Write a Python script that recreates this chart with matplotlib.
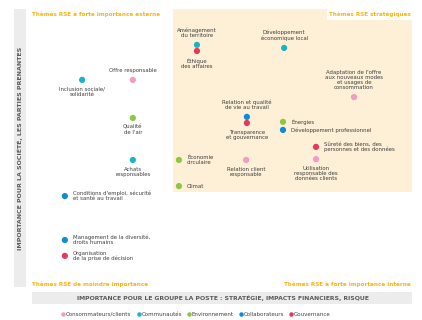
import matplotlib.pyplot as plt
from matplotlib.patches import Rectangle
from matplotlib.lines import Line2D

# stakeholder groups and colours
groups = ["Consommateurs/clients", "Communautés", "Environnement", "Collaborateurs", "Gouvernance"]
group_colors = ["#f39bc6", "#1ab3c8", "#8dc63f", "#0b8bd9", "#e6375c"]

# themes: label, group index, importance La Poste (x), importance société (y)
labels = [
    "Inclusion sociale/\nsolidarité", "Offre responsable", "Qualité\nde l'air", "Achats\nresponsables",
    "Aménagement\ndu territoire", "Éthique\ndes affaires", "Développement\néconomique local",
    "Adaptation de l'offre\naux nouveaux modes\net usages de\nconsommation",
    "Relation et qualité\nde vie au travail", "Transparence\net gouvernance", "Énergies",
    "Développement professionnel", "Sûreté des biens, des\npersonnes et des données",
    "Relation client\nresponsable", "Utilisation\nresponsable des\ndonnées clients",
    "Économie\ncirculaire", "Climat", "Conditions d'emploi, sécurité\net santé au travail",
    "Management de la diversité,\ndroits humains", "Organisation\nde la prise de décision",
]
theme_group = [1, 0, 2, 1, 1, 4, 1, 0, 3, 4, 2, 3, 4, 0, 0, 2, 2, 3, 3, 4]
x_internal = [1.41, 2.73, 2.73, 2.73, 4.40, 4.40, 6.67, 8.49, 5.70, 5.70,
              6.64, 6.64, 7.50, 5.68, 7.50, 3.93, 3.93, 0.96, 0.96, 0.96]
y_external = [7.45, 7.45, 6.08, 4.57, 8.71, 8.49, 8.60, 6.83, 6.12, 5.90,
              5.94, 5.65, 5.04, 4.57, 4.60, 4.57, 3.63, 3.27, 1.69, 1.12]
label_pos = ["below", "above", "below", "below", "above", "below", "above", "above",
             "above", "below", "right", "right", "right", "below", "below",
             "right", "right", "right", "right", "right"]

orange = "#f6b40e"
grey_bar = "#ececec"
axis_txt = "#5a5a5a"
lab_txt = "#3f3f3f"

fig = plt.figure(figsize=(4.22, 3.20), dpi=100)
W, H = 422, 320

ax = fig.add_axes([28 / W, 1 - 287 / H, 384 / W, 278 / H])
ax.set_xlim(0, 10)
ax.set_ylim(0, 10)
ax.axis("off")

# strategic zone
ax.add_patch(Rectangle((3.78, 3.42), 6.22, 6.58, facecolor="#fdf0d6", edgecolor="none", zorder=0))

# axis bars
fig.patches.append(Rectangle((14 / W, 1 - 287 / H), 12 / W, 278 / H, transform=fig.transFigure,
                             facecolor=grey_bar, edgecolor="none"))
fig.patches.append(Rectangle((32 / W, 1 - 304 / H), 380 / W, 12 / H, transform=fig.transFigure,
                             facecolor=grey_bar, edgecolor="none"))
fig.text(20 / W, 1 - 148 / H, "IMPORTANCE POUR LA SOCIÉTÉ, LES PARTIES PRENANTES", rotation=90,
         ha="center", va="center", fontsize=4.5, fontweight="bold", color=axis_txt)
fig.text(223 / W, 1 - 298 / H, "IMPORTANCE POUR LE GROUPE LA POSTE : STRATÉGIE, IMPACTS FINANCIERS, RISQUE",
         ha="center", va="center", fontsize=4.45, fontweight="bold", color=axis_txt)

# quadrant titles
ax.text(0.1, 9.8, "Thèmes RSE à forte importance externe", ha="left", va="center",
        fontsize=4.1, fontweight="bold", color=orange)
ax.text(9.98, 9.8, "Thèmes RSE stratégiques", ha="right", va="center", fontsize=4.1,
        fontweight="bold", color=orange,
        bbox=dict(facecolor="white", edgecolor="none", pad=1.8))
fig.text(32 / W, 1 - 284 / H, "Thèmes RSE de moindre importance", ha="left", va="center",
         fontsize=4.1, fontweight="bold", color=orange)
fig.text(411 / W, 1 - 284 / H, "Thèmes RSE à forte importance interne", ha="right", va="center",
         fontsize=4.1, fontweight="bold", color=orange)

# points
cols = [group_colors[g] for g in theme_group]
ax.scatter(x_internal, y_external, s=20, c=cols, edgecolors="none", zorder=3)

for lab, x, y, pos in zip(labels, x_internal, y_external, label_pos):
    if pos == "above":
        off, ha, va = (0, 5), "center", "bottom"
    elif pos == "below":
        off, ha, va = (0, -5), "center", "top"
    else:
        off, ha, va = (6, 0), "left", "center"
    ax.annotate(lab, (x, y), xytext=off, textcoords="offset points", ha=ha, va=va,
                fontsize=3.9, color=lab_txt, linespacing=1.05, multialignment="center" if ha == "center" else "left")

# legend
handles = [Line2D([], [], marker="o", linestyle="none", markersize=3.2, markerfacecolor=c,
                  markeredgecolor="none", label=g) for g, c in zip(groups, group_colors)]
fig.legend(handles=handles, loc="center", bbox_to_anchor=(196 / W, 1 - 314 / H), ncol=5,
           frameon=False, fontsize=4, handletextpad=0.1, columnspacing=0.9, handlelength=0.8,
           labelcolor=lab_txt)

fig.savefig("out.png", dpi=100)
